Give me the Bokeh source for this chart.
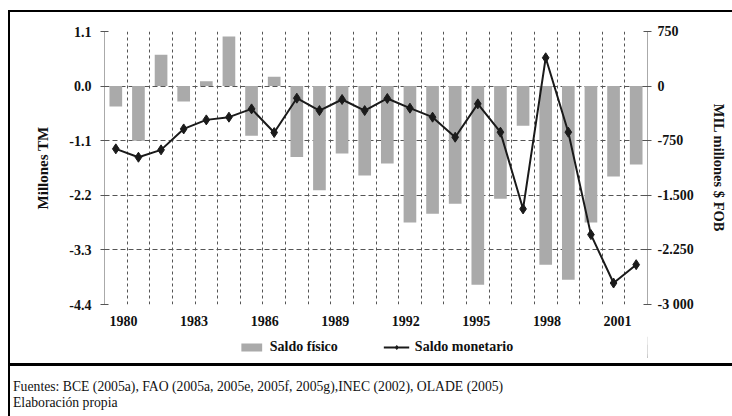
from bokeh.plotting import figure
from bokeh.models import (Range1d, LinearAxis, FixedTicker, Legend, LegendItem, Div,
                          ColumnDataSource)
from bokeh.layouts import column, row
from bokeh.embed import file_html
from bokeh.resources import INLINE

# ---------------- data ----------------
years = list(range(1980, 2004))
saldo_fisico = [-0.41, -1.10, 0.63, -0.31, 0.10, 1.00, -1.00, 0.19, -1.43, -2.10,
                -1.36, -1.80, -1.56, -2.75, -2.57, -2.37, -4.00, -2.27, -0.80, -3.60,
                -3.90, -2.75, -1.82, -1.58]
saldo_monetario = [-862, -977, -876, -588, -464, -427, -313, -638, -166, -336,
                   -184, -336, -170, -303, -427, -702, -244, -633, -1687, 389,
                   -633, -2040, -2705, -2453]
x_label_years = [1980, 1983, 1986, 1989, 1992, 1995, 1998, 2001]
left_ticks = [1.1, 0.0, -1.1, -2.2, -3.3, -4.4]
left_labels = ["1.1", "0.0", "-1.1", "-2.2", "-3.3", "-4.4"]
right_ticks = [750, 0, -750, -1500, -2250, -3000]
right_labels = ["750", "0", "-750", "-1.500", "-2.250", "-3 000"]
legend_labels = ["Saldo físico", "Saldo monetario"]

footer_lines = ["Fuentes: BCE (2005a), FAO (2005a, 2005e, 2005f, 2005g),INEC (2002), OLADE (2005)",
                "Elaboración propia"]

# ---------------- style ----------------
SERIF = "Liberation Serif"
GRID = "#555555"
BAR = "#aaaaaa"
LINE = "#1a1a1a"
W = 722

src = ColumnDataSource(dict(year=years, fis=saldo_fisico, mon=saldo_monetario))

p = figure(width=W, height=324, x_range=Range1d(1979.5, 2003.5),
           y_range=Range1d(-4.4, 1.1), output_backend="svg", toolbar_location=None,
           min_border_left=94, min_border_right=85, min_border_top=19,
           min_border_bottom=32, outline_line_color=None, background_fill_color="white",
           margin=0)
p.extra_y_ranges = {"mon": Range1d(-3000, 750)}

bar_style = dict(fill_color=BAR, line_color=None)
line_style = dict(line_color=LINE, line_width=2)
pt_style = dict(marker="diamond", size=10, fill_color=LINE, line_color=LINE)

p.vbar(x="year", top="fis", bottom=0, width=0.56, source=src, **bar_style)
p.line(x="year", y="mon", source=src, y_range_name="mon", **line_style)
p.scatter(x="year", y="mon", source=src, y_range_name="mon", **pt_style)

# x axis: labels placed as in the original (slightly stretched spacing)
label_pos = [y + 0.34 + (y - 1980) * 0.0396 for y in x_label_years]
xa = p.xaxis[0]
xa.ticker = FixedTicker(ticks=label_pos)
xa.major_label_overrides = {pos: str(y) for pos, y in zip(label_pos, x_label_years)}
xa.axis_line_color = None
xa.major_tick_line_color = None
xa.minor_tick_line_color = None
xa.major_label_standoff = 5
xa.major_label_text_font = SERIF
xa.major_label_text_font_style = "bold"
xa.major_label_text_font_size = "14px"
xa.major_label_text_color = "#111111"

# left axis
ya = p.yaxis[0]
ya.ticker = FixedTicker(ticks=left_ticks)
ya.major_label_overrides = {t: s for t, s in zip(left_ticks, left_labels)}
ya.axis_line_color = GRID
ya.axis_line_dash = "1 1"
ya.major_tick_line_color = GRID
ya.major_tick_in = 4
ya.major_tick_out = 4
ya.minor_tick_line_color = None
ya.major_label_standoff = 9
ya.major_label_text_font = SERIF
ya.major_label_text_font_style = "bold"
ya.major_label_text_font_size = "14px"
ya.major_label_text_color = "#111111"
ya.axis_label = "Millones TM"
ya.axis_label_text_font = SERIF
ya.axis_label_text_font_style = "bold"
ya.axis_label_text_font_size = "15px"
ya.axis_label_text_color = "#111111"
ya.axis_label_standoff = 15

# right axis
ra = LinearAxis(y_range_name="mon", ticker=FixedTicker(ticks=right_ticks))
ra.major_label_overrides = {t: s for t, s in zip(right_ticks, right_labels)}
ra.axis_line_color = GRID
ra.axis_line_dash = "1 1"
ra.major_tick_line_color = GRID
ra.major_tick_in = 4
ra.major_tick_out = 4
ra.minor_tick_line_color = None
ra.major_label_standoff = 6
ra.major_label_text_font = SERIF
ra.major_label_text_font_style = "bold"
ra.major_label_text_font_size = "14px"
ra.major_label_text_color = "#111111"
ra.axis_label = "MIL millones $ FOB"
ra.axis_label_text_font = SERIF
ra.axis_label_text_font_style = "bold"
ra.axis_label_text_font_size = "14.5px"
ra.axis_label_text_color = "#111111"
ra.axis_label_standoff = 14
p.add_layout(ra, "right")

# grids
p.xgrid.ticker = FixedTicker(ticks=[1979.5 + k for k in range(25)])
p.xgrid.grid_line_color = GRID
p.xgrid.grid_line_dash = "3 3"
p.xgrid.grid_line_width = 1
p.ygrid.ticker = FixedTicker(ticks=left_ticks)
p.ygrid.grid_line_color = GRID
p.ygrid.grid_line_dash = "5 3"
p.ygrid.grid_line_width = 1

# legend strip: its own small plot, fed by the same series (drawn out of its view)
lg = figure(width=W, height=22, x_range=Range1d(0, 1), y_range=Range1d(0, 1),
            x_axis_type=None, y_axis_type=None, output_backend="svg",
            toolbar_location=None, min_border_left=94, min_border_right=85,
            min_border_top=0, min_border_bottom=0, outline_line_color=None, margin=0)
lb = lg.vbar(x="year", top="fis", bottom=0, width=0.56, source=src, **bar_style)
ll = lg.line(x="year", y="mon", source=src, **line_style)
lp = lg.scatter(x="year", y="mon", source=src, **pt_style)
legend = Legend(items=[LegendItem(label=legend_labels[0], renderers=[lb]),
                       LegendItem(label=legend_labels[1], renderers=[ll, lp])],
                orientation="horizontal", location="center", padding=0, margin=0,
                spacing=45, label_standoff=6, glyph_width=26, glyph_height=10,
                label_height=16, border_line_color=None, background_fill_alpha=0,
                label_text_font=SERIF, label_text_font_style="bold",
                label_text_font_size="14px", label_text_color="#111111")
lg.add_layout(legend, "center")

# frame lines and footer
top_space = Div(width=732, height=10, margin=0)
left_space = Div(width=8, height=406, margin=0)
left_border = Div(width=2, height=406, margin=0, styles={"background-color": "black"})
top_line = Div(width=W, height=2, margin=0, styles={"background-color": "black"})
gap = Div(width=W, height=5, margin=0)
sep_line = Div(width=W, height=3, margin=0, styles={"background-color": "black"})
footer = Div(width=W, height=50, margin=0, text="<br>".join(footer_lines),
             styles={"font-family": SERIF, "font-size": "13.7px", "line-height": "16px",
                     "padding-top": "13px", "padding-left": "3px", "color": "#111111",
                     "box-sizing": "border-box"})

inner = column(top_line, p, lg, gap, sep_line, footer, spacing=0, margin=0)
layout = column(top_space, row(left_space, left_border, inner, spacing=0, margin=0),
                spacing=0, margin=0)

open("out.html", "w").write(file_html(layout, INLINE))
